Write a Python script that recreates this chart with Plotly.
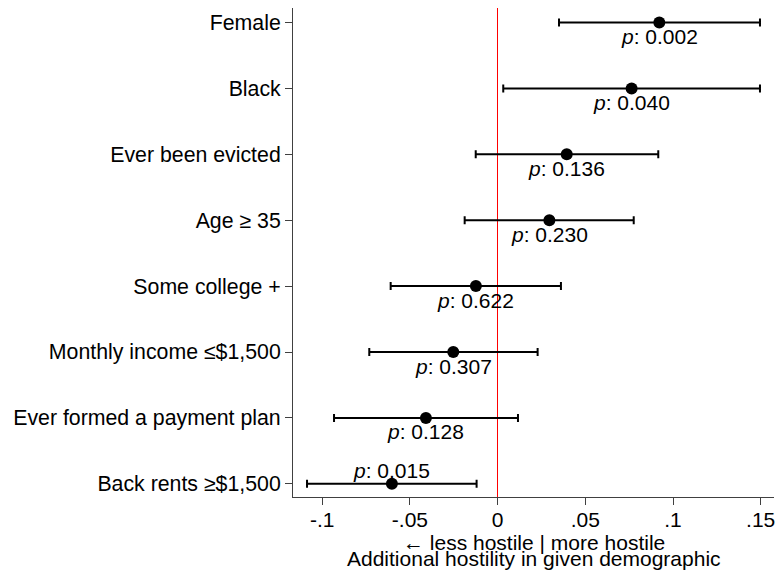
import plotly.graph_objects as go

categories = ["Female", "Black", "Ever been evicted", "Age ≥ 35", "Some college +",
              "Monthly income ≤$1,500", "Ever formed a payment plan", "Back rents ≥$1,500"]
coef = [0.0922, 0.0764, 0.0394, 0.0295, -0.0124, -0.0253, -0.0409, -0.0603]
ci_low = [0.0350, 0.0032, -0.0125, -0.0188, -0.0610, -0.0732, -0.0933, -0.1087]
ci_high = [0.1496, 0.1496, 0.0916, 0.0776, 0.0361, 0.0228, 0.0116, -0.0120]
p_values = ["0.002", "0.040", "0.136", "0.230", "0.622", "0.307", "0.128", "0.015"]
x_tickvals = [-0.1, -0.05, 0, 0.05, 0.1, 0.15]
x_ticktext = ["-.1", "-.05", "0", ".05", ".1", ".15"]

FONT = "Liberation Sans, Arial, Helvetica, sans-serif"
AX = "#404040"

err_plus = [h - c for h, c in zip(ci_high, coef)]
err_minus = [c - l for c, l in zip(coef, ci_low)]

fig = go.Figure()
fig.add_trace(go.Scatter(
    x=coef, y=categories, mode="markers",
    marker=dict(color="black", size=12),
    error_x=dict(type="data", symmetric=False, array=err_plus, arrayminus=err_minus,
                 color="black", thickness=2, width=4),
    showlegend=False, hoverinfo="skip",
))

for i, (c, cat, p) in enumerate(zip(coef, categories, p_values)):
    above = (i == len(categories) - 1)
    fig.add_annotation(x=c, y=cat, text=f"<i>p</i>: {p}", showarrow=False,
                       yshift=13 if above else -14,
                       font=dict(family=FONT, size=21, color="black"))

fig.add_annotation(x=0.5, y=0, xref="paper", yref="paper", yanchor="middle",
                   text="← less hostile | more hostile", showarrow=False, yshift=-45,
                   font=dict(family=FONT, size=21, color="black"))
fig.add_annotation(x=0.5, y=0, xref="paper", yref="paper", yanchor="middle",
                   text="Additional hostility in given demographic", showarrow=False, yshift=-61,
                   font=dict(family=FONT, size=21, color="black"))

fig.update_xaxes(range=[-0.1167, 0.1576], tickvals=x_tickvals, ticktext=x_ticktext,
                 showgrid=False, zeroline=True, zerolinecolor="red", zerolinewidth=1,
                 showline=True, linecolor=AX, linewidth=1,
                 ticks="outside", ticklen=7, tickcolor=AX, tickwidth=1,
                 ticklabelstandoff=-3,
                 tickfont=dict(family=FONT, size=21, color="black"))
fig.update_yaxes(type="category", categoryorder="array", categoryarray=categories,
                 range=[7.2, -0.22], showgrid=False, zeroline=False,
                 showline=True, linecolor=AX, linewidth=1,
                 ticks="outside", ticklen=7, tickcolor=AX, tickwidth=1,
                 tickfont=dict(family=FONT, size=21.3, color="black"))

fig.update_layout(width=776, height=576, margin=dict(l=293, r=2, t=8, b=79),
                  plot_bgcolor="white", paper_bgcolor="white",
                  font=dict(family=FONT, color="black"))

fig.write_html("out.html", config={"displayModeBar": False},
               post_script="document.body.style.margin='0';")
